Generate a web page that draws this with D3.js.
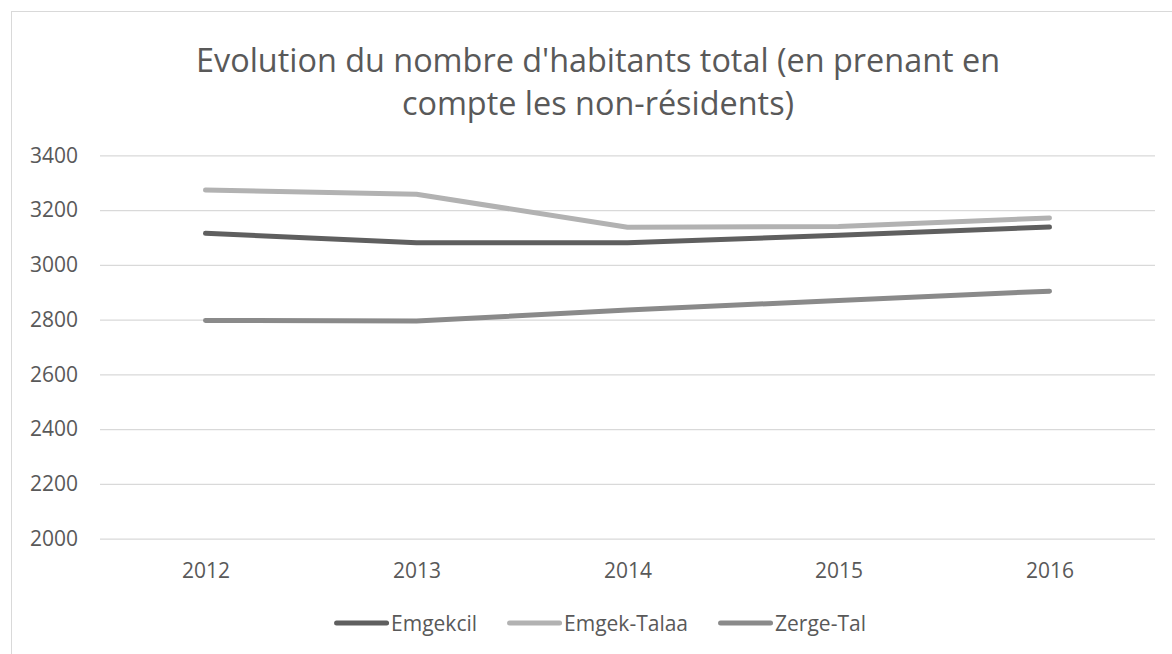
<!DOCTYPE html>
<html>
<head>
<meta charset="utf-8">
<script src="https://cdn.jsdelivr.net/npm/d3@7"></script>
<style>
  body { margin: 0; background: #fff; }
  text { font-family: "Open Sans", sans-serif; fill: #595959; }
</style>
</head>
<body>
<div id="chart"></div>
<script>
const years = ["2012", "2013", "2014", "2015", "2016"];
const emgekcil = [3115, 3081, 3081, 3108, 3138];
const emgekTalaa = [3273, 3258, 3137, 3140, 3171];
const zergeTal = [2797, 2795, 2835, 2870, 2904];
const seriesNames = ["Emgekcil", "Emgek-Talaa", "Zerge-Tal"];
const seriesColors = ["#5f5f5f", "#b2b2b2", "#8a8a8a"];
const yTicks = [2000, 2200, 2400, 2600, 2800, 3000, 3200, 3400];
const titleLines = ["Evolution du nombre d'habitants total (en prenant en", "compte les non-résidents)"];

let dim = {
    width: 1172, height: 654,
    plot: { left: 100, right: 1155, top: 155.3, bottom: 538.7 }
};

let svg = d3.select("#chart").append("svg")
        .attr("width", dim.width)
        .attr("height", dim.height);

// chart frame (runs off the right / bottom edge like the original)
svg.append("rect")
        .attr("x", 11.5).attr("y", 11.5)
        .attr("width", 1170).attr("height", 700)
        .attr("fill", "#fff")
        .attr("stroke", "#d9d9d9");

let x = d3.scalePoint()
        .domain(years)
        .range([dim.plot.left, dim.plot.right])
        .padding(0.5);

let y = d3.scaleLinear()
        .domain([2000, 3400])
        .range([dim.plot.bottom, dim.plot.top]);

// title
svg.append("text")
        .attr("x", 598)
        .attr("y", 72)
        .attr("text-anchor", "middle")
        .style("font-size", "32.4px")
    .selectAll("tspan").data(titleLines).enter()
    .append("tspan")
        .attr("x", 598)
        .attr("dy", (d, i) => i ? 43 : 0)
        .text(d => d);

// gridlines + y labels
let yAxis = d3.axisLeft(y)
        .tickValues(yTicks)
        .tickSize(-(dim.plot.right - dim.plot.left))
        .tickPadding(22)
        .tickFormat(d3.format("d"));

svg.append("g")
        .attr("class", "y axis")
        .attr("transform", "translate(" + dim.plot.left + ",0)")
        .call(yAxis)
        .call(g => g.select(".domain").remove())
        .call(g => g.selectAll(".tick line").attr("stroke", "#d9d9d9").attr("stroke-width", 1.3))
        .call(g => g.selectAll(".tick text")
            .attr("fill", "#595959")
            .style("font-size", "21px")
            .style("font-family", "'Open Sans', sans-serif"));

// x labels
let xAxis = d3.axisBottom(x).tickSize(0).tickPadding(24);

svg.append("g")
        .attr("class", "x axis")
        .attr("transform", "translate(0," + dim.plot.bottom + ")")
        .call(xAxis)
        .call(g => g.select(".domain").remove())
        .call(g => g.selectAll(".tick text")
            .attr("fill", "#595959")
            .style("font-size", "21px")
            .style("font-family", "'Open Sans', sans-serif"));

// series lines
let series = [emgekcil, emgekTalaa, zergeTal];

let line = d3.line()
        .x((d, i) => x(years[i]))
        .y(d => y(d));

svg.append("g")
        .attr("class", "lines")
    .selectAll("path").data(series).enter()
    .append("path")
        .attr("d", line)
        .attr("fill", "none")
        .attr("stroke", (d, i) => seriesColors[i])
        .attr("stroke-width", 5)
        .attr("stroke-linecap", "round")
        .attr("stroke-linejoin", "round");

// legend
let legend = svg.append("g").attr("class", "legend");
let items = legend.selectAll("g").data(seriesNames).enter().append("g");

items.append("line")
        .attr("x1", 2.5).attr("x2", 52.5)
        .attr("y1", 0).attr("y2", 0)
        .attr("stroke", (d, i) => seriesColors[i])
        .attr("stroke-width", 5)
        .attr("stroke-linecap", "round");

items.append("text")
        .attr("x", 57)
        .attr("y", 7.5)
        .style("font-size", "21px")
        .text(d => d);

let offset = 0;
let offsets = [];
items.each(function() {
    offsets.push(offset);
    offset += 57 + d3.select(this).select("text").node().getComputedTextLength() + 30;
});
let totalW = offset - 30;
let legendLeft = 600 - totalW / 2;
items.attr("transform", (d, i) => "translate(" + (legendLeft + offsets[i]) + ",623)");
</script>
</body>
</html>
